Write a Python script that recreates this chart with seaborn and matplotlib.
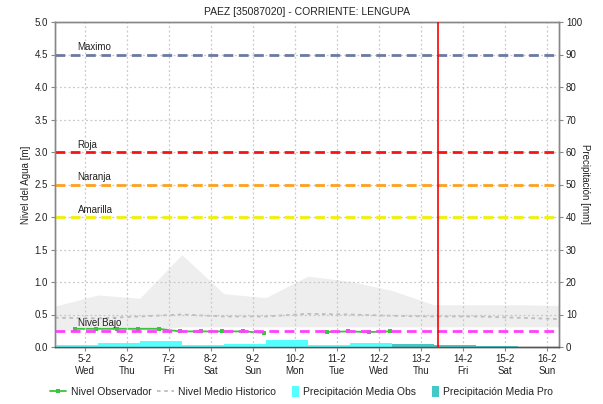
import matplotlib
matplotlib.use("Agg")
import matplotlib.pyplot as plt
from matplotlib.patches import Patch, Rectangle
from matplotlib.lines import Line2D
from matplotlib.legend_handler import HandlerPatch
import numpy as np
import seaborn as sns

# ---- data (x positions are days of February 2020) ----
hist_days = [4.29, 5.31, 6.31, 7.31, 8.31, 9.31, 10.31, 11.31, 12.31, 13.31, 14.31, 15.31, 16.29]
hist_max = [0.63, 0.80, 0.75, 1.42, 0.82, 0.76, 1.09, 1.01, 0.87, 0.65, 0.65, 0.65, 0.64]
hist_min = [0.26, 0.26, 0.26, 0.31, 0.31, 0.31, 0.31, 0.31, 0.31, 0.31, 0.31, 0.31, 0.31]
hist_mean = [0.45, 0.44, 0.47, 0.50, 0.47, 0.47, 0.51, 0.50, 0.48, 0.47, 0.47, 0.45, 0.43]

obs_days_a = [4.76, 5.26, 5.76, 6.26, 6.76, 7.26, 7.76, 8.26, 8.76, 9.26]
obs_level_a = [0.28, 0.28, 0.28, 0.28, 0.28, 0.24, 0.24, 0.24, 0.24, 0.22]
obs_days_b = [10.76, 11.26, 11.76, 12.26]
obs_level_b = [0.23, 0.24, 0.23, 0.24]

rain_obs_days = [4.31, 5.31, 6.31, 7.31, 8.31, 9.31, 10.31, 11.31, 12.31]
rain_obs_mm = [0.6, 1.3, 1.8, 0.5, 0.9, 2.2, 0.6, 1.1, 0.7]
rain_pro_days = [12.31, 13.31, 14.31]
rain_pro_mm = [0.9, 0.6, 0.4]

now_day = 13.41

thresholds = [("Maximo", 4.5, "#6B7AA1"),
              ("Roja", 3.0, "#FF1010"),
              ("Naranja", 2.5, "#FFA01E"),
              ("Amarilla", 2.0, "#F0F000"),
              ("Nivel Bajo", 0.25, "#FF40FF")]

tick_days = list(range(5, 17))
tick_labels = ["5-2\nWed", "6-2\nThu", "7-2\nFri", "8-2\nSat", "9-2\nSun", "10-2\nMon",
               "11-2\nTue", "12-2\nWed", "13-2\nThu", "14-2\nFri", "15-2\nSat", "16-2\nSun"]

# ---- style ----
sns.set_theme(style="whitegrid")
plt.rcParams["font.family"] = ["Liberation Sans", "DejaVu Sans"]
plt.rcParams["axes.unicode_minus"] = False

fig = plt.figure(figsize=(6.03, 4.04), dpi=100)
ax = fig.add_axes([55 / 603, 1 - 347 / 404, (559 - 55) / 603, (347 - 22) / 404])
ax2 = ax.twinx()

txt = "#222222"
spine_c = "#888888"
green = "#3CC43C"
mean_c = "#BDBDBD"
obs_c = "#55FFFF"
pro_c = "#44C8C8"

# historic band and mean
ax.fill_between(hist_days, hist_min, hist_max, color="#EEEEEE", lw=0, zorder=0.2)
sns.lineplot(x=hist_days, y=hist_mean, ax=ax, color=mean_c, lw=1.3,
             linestyle=(0, (2, 2)), zorder=1)

# observed level
sns.lineplot(x=obs_days_a, y=obs_level_a, ax=ax, color=green, lw=1.3,
             marker="s", markersize=2.8, markeredgewidth=0, zorder=2)
sns.lineplot(x=obs_days_b, y=obs_level_b, ax=ax, color=green, lw=1.3,
             marker="s", markersize=2.8, markeredgewidth=0, zorder=2)

# alert thresholds
for name, lvl, col in thresholds:
    ax.axhline(lvl, color=col, lw=2, linestyle=(0, (3.5, 2)), zorder=3)
    ax.text(4.83, lvl + 0.035, name, fontsize=7, color=txt, ha="left", va="bottom", zorder=4)

ax.set_xlim(4.29, 16.29)
ax.set_ylim(0, 5)
ax.set_yticks(np.arange(0, 5.01, 0.5))
ax.set_yticklabels([f"{v:.1f}" for v in np.arange(0, 5.01, 0.5)])
ax.set_xticks(tick_days)
ax.set_xticklabels(tick_labels)
ax.grid(True, color="#C8C8C8", linestyle=(0, (1.5, 2)), lw=0.9)
ax.set_axisbelow(False)
ax.set_facecolor("white")
ax.set_ylabel("Nivel del Agua [m]", fontsize=7, color=txt, labelpad=3)
ax.tick_params(axis="both", labelsize=7, colors=txt, length=3, width=0.8,
               direction="out", pad=2, left=True, bottom=True)
ax.tick_params(axis="x", color=spine_c)
ax.tick_params(axis="y", color=spine_c)

# precipitation on secondary axis
ax2.bar(rain_obs_days, rain_obs_mm, width=1.0, align="edge", color=obs_c, lw=0, zorder=1)
ax2.bar(rain_pro_days, rain_pro_mm, width=1.0, align="edge", color=pro_c, lw=0, zorder=2)
ax2.axvline(now_day, color="#FF0000", lw=1.2, zorder=5)
ax2.set_ylim(0, 100)
ax2.set_yticks(np.arange(0, 101, 10))
ax2.grid(False)
ax2.set_ylabel("Precipitación [mm]", fontsize=7, color=txt, rotation=270, labelpad=6)
ax2.tick_params(axis="y", labelsize=7, colors=txt, length=3, width=0.8,
                direction="out", pad=2, right=True, color=spine_c)

for a in (ax, ax2):
    for s in ("left", "right", "top"):
        a.spines[s].set_color(spine_c)
        a.spines[s].set_linewidth(1)
    a.spines["bottom"].set_color("#555555")
    a.spines["bottom"].set_linestyle((0, (1, 1)))
    a.spines["bottom"].set_linewidth(1)

ax.set_title("PAEZ [35087020] - CORRIENTE: LENGUPA", fontsize=7.5, color=txt, pad=5)


def narrow_box(legend, orig_handle, xdescent, ydescent, width, height, fontsize):
    # small upright swatch at the right end of the handle box
    return Rectangle((-xdescent + width - 5, -ydescent - 1.5), 5, height + 3)


handles = [
    Line2D([], [], color=green, lw=1.3, marker="s", markersize=2.8, markeredgewidth=0),
    Line2D([], [], color=mean_c, lw=1.3, linestyle=(0, (2, 2))),
    Patch(facecolor=obs_c, edgecolor="none"),
    Patch(facecolor=pro_c, edgecolor="none"),
]
labels = ["Nivel Observador", "Nivel Medio Historico",
          "Precipitación Media Obs", "Precipitación Media Pro"]
fig.legend(handles, labels, loc="center", bbox_to_anchor=(0.5, 1 - 392 / 404), ncol=4,
           frameon=False, fontsize=7.5, handlelength=1.6, handletextpad=0.4,
           columnspacing=0.6, labelcolor=txt,
           handler_map={Patch: HandlerPatch(patch_func=narrow_box)})

fig.savefig("out.png", dpi=100)
